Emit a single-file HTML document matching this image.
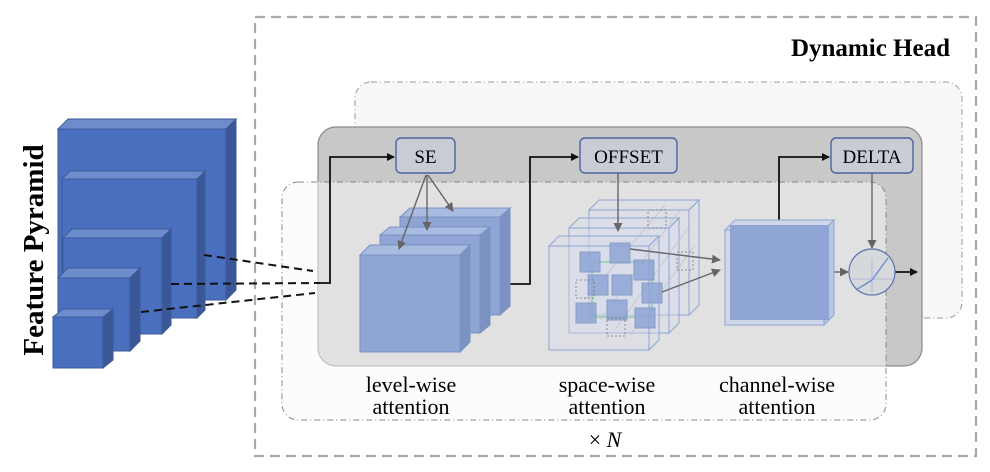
<!DOCTYPE html>
<html><head><style>
html,body{margin:0;padding:0;background:#fff;}
svg{display:block;}
text{font-family:"Liberation Serif",serif;}
</style></head><body>
<svg width="990" height="472" viewBox="0 0 990 472" xmlns="http://www.w3.org/2000/svg">
<defs>
<marker id="ab" markerWidth="8" markerHeight="8" refX="7" refY="4" orient="auto" markerUnits="userSpaceOnUse"><path d="M0,0 L8,4 L0,8 z" fill="#111"/></marker>
<marker id="ag" markerWidth="9" markerHeight="9" refX="8" refY="4.5" orient="auto" markerUnits="userSpaceOnUse"><path d="M0,0 L9,4.5 L0,9 z" fill="#666"/></marker>
</defs>
<rect x="255" y="17" width="721" height="439" fill="#fff" stroke="#aaa" stroke-width="2.2" stroke-dasharray="10,6"/>
<text x="950" y="56" font-size="25" font-weight="bold" text-anchor="end">Dynamic Head</text>
<rect x="355" y="82" width="607" height="236" rx="16" fill="#f8f8f8" stroke="#999" stroke-width="1" stroke-dasharray="6,3,1,3"/>
<rect x="318" y="127" width="604" height="239" rx="18" fill="#c8c8c8" stroke="#8a8a8a" stroke-width="1.2"/>
<rect x="282" y="182" width="604" height="238" rx="16" fill="rgba(250,250,250,0.5)" stroke="#888" stroke-width="1" stroke-dasharray="6,3,1,3"/>

<g stroke="#3d5a99" stroke-width="1">
<g><polygon points="58,129 68,119 236,119 226,129" fill="#6d8ccc"/><polygon points="226,129 236,119 236,290 226,300" fill="#3a5797"/><rect x="58" y="129" width="168" height="171" fill="#4a6fbf"/></g>
<g><polygon points="62,179 70,171 205,171 197,179" fill="#6d8ccc"/><polygon points="197,179 205,171 205,310 197,318" fill="#3a5797"/><rect x="62" y="179" width="135" height="139" fill="#4a6fbf"/></g>
<g><polygon points="63,238 72,229 171,229 162,238" fill="#6d8ccc"/><polygon points="162,238 171,229 171,325 162,334" fill="#3a5797"/><rect x="63" y="238" width="99" height="96" fill="#4a6fbf"/></g>
<g><polygon points="58,278 68,268 140,268 130,278" fill="#6d8ccc"/><polygon points="130,278 140,268 140,341 130,351" fill="#3a5797"/><rect x="58" y="278" width="72" height="73" fill="#4a6fbf"/></g>
<g><polygon points="53,317 63,309 113,309 103,317" fill="#6d8ccc"/><polygon points="103,317 113,309 113,360 103,368" fill="#3a5797"/><rect x="53" y="317" width="50" height="51" fill="#4a6fbf"/></g>
</g>
<text transform="translate(43,250) rotate(-90)" font-size="29" font-weight="bold" text-anchor="middle">Feature Pyramid</text>
<g stroke="#111" stroke-width="2" stroke-dasharray="8,5" fill="none">
<line x1="204" y1="255" x2="313" y2="271"/><line x1="171" y1="284" x2="320" y2="283"/><line x1="141" y1="312" x2="315" y2="293"/>
</g>

<g fill="none" stroke="#111" stroke-width="1.8">
<polyline points="320,283 330,283 330,157 394,157" marker-end="url(#ab)"/>
<polyline points="480,284 530,284 530,157 578,157" marker-end="url(#ab)"/>
<polyline points="779,222 779,157 829,157" marker-end="url(#ab)"/>
<line x1="895" y1="272" x2="917" y2="272" marker-end="url(#ab)"/>
</g>

<g stroke="#7b92c2" stroke-width="1">
<g><polygon points="400,217 410,208 510,208 500,217" fill="#a8bbe0"/><polygon points="500,217 510,208 510,306 500,315" fill="#7b92c2"/><rect x="400" y="217" width="100" height="98" fill="#8ea5d5"/></g>
<g><polygon points="380,235 390,227 490,227 480,235" fill="#a8bbe0"/><polygon points="480,235 490,227 490,325 480,333" fill="#7b92c2"/><rect x="380" y="235" width="100" height="98" fill="#8ea5d5"/></g>
<g><polygon points="360,255 370,245 470,245 460,255" fill="#a8bbe0"/><polygon points="460,255 470,245 470,342 460,352" fill="#7b92c2"/><rect x="360" y="255" width="100" height="97" fill="#8ea5d5"/></g>
</g>
<g stroke="#666" stroke-width="1.4" fill="none">
<line x1="426" y1="175" x2="399" y2="249" marker-end="url(#ag)"/>
<line x1="427" y1="175" x2="427" y2="230" marker-end="url(#ag)"/>
<line x1="428" y1="175" x2="453" y2="211" marker-end="url(#ag)"/>
</g>

<g stroke="#8ea5d5" stroke-width="1" fill="rgba(215,222,238,0.35)">
<polygon points="589,210 599,200 699,200 689,210"/><rect x="589" y="210" width="100" height="105"/><polygon points="689,210 699,200 699,305 689,315"/>
<polygon points="569,228 579,218 679,218 669,228"/><rect x="569" y="228" width="100" height="105"/><polygon points="669,228 679,218 679,323 669,333"/>
<polygon points="549,246 559,236 659,236 649,246"/><rect x="549" y="246" width="100" height="104"/><polygon points="649,246 659,236 659,340 649,350"/>
</g>
<g stroke="#bbb" stroke-width="0.6"><line x1="600" y1="320" x2="680" y2="210"/><line x1="615" y1="330" x2="690" y2="225"/><line x1="585" y1="300" x2="665" y2="205"/><line x1="630" y1="335" x2="695" y2="245"/></g>
<rect x="592" y="262" width="60" height="55" fill="none" stroke="#6cc98a" stroke-width="1"/>
<g fill="#8ea5d5" stroke="#7b92c2" stroke-width="1" opacity="0.85">
<rect x="580" y="252" width="20" height="20"/><rect x="610" y="243" width="20" height="20"/><rect x="634" y="260" width="20" height="20"/>
<rect x="588" y="275" width="20" height="20"/><rect x="612" y="275" width="20" height="20"/><rect x="642" y="283" width="20" height="20"/>
<rect x="576" y="303" width="20" height="20"/><rect x="607" y="300" width="20" height="20"/><rect x="635" y="308" width="20" height="20"/>
</g>
<g fill="none" stroke="#777" stroke-width="0.8" stroke-dasharray="2,2">
<rect x="576" y="280" width="18" height="18"/><rect x="607" y="318" width="18" height="18"/><rect x="677" y="252" width="16" height="18"/><rect x="648" y="210" width="18" height="18"/>
</g>
<g stroke="#666" stroke-width="1.4" fill="none">
<line x1="618" y1="173" x2="618" y2="231" marker-end="url(#ag)"/>
<line x1="630" y1="249" x2="720" y2="260" marker-end="url(#ag)"/>
<line x1="662" y1="292" x2="720" y2="270" marker-end="url(#ag)"/>
<line x1="832" y1="272" x2="848" y2="272" marker-end="url(#ag)"/>
<line x1="872" y1="173" x2="872" y2="248" marker-end="url(#ag)"/>
</g>

<g stroke="#8ea5d5" stroke-width="1">
<polygon points="725,230 735,220 834,220 824,230" fill="#d0d8e8"/>
<polygon points="824,230 834,220 834,315 824,325" fill="#b8c6e0"/>
<rect x="725" y="230" width="99" height="95" fill="#d0d8e8"/>
<rect x="730" y="225" width="99" height="95" fill="#8ea5d5" stroke="none"/>
</g>
<circle cx="872" cy="272" r="23" fill="#d6d8dc" stroke="#5a74ae" stroke-width="1.2"/>
<g stroke="#9fb2da" stroke-width="0.8"><line x1="852" y1="279" x2="892" y2="279"/><line x1="872" y1="258" x2="872" y2="292"/></g>
<polyline points="856,290 872,280 888,258" fill="none" stroke="#6d8ccc" stroke-width="1.4"/>

<g fill="#c9ccd4" stroke="#4a64a0" stroke-width="1.4">
<rect x="396" y="138" width="59" height="35" rx="5"/><rect x="580" y="138" width="97" height="35" rx="5"/><rect x="831" y="138" width="82" height="35" rx="5"/>
</g>
<g font-size="19" text-anchor="middle"><text x="425.5" y="163">SE</text><text x="628.5" y="163">OFFSET</text><text x="872" y="163">DELTA</text></g>

<g font-size="22" text-anchor="middle">
<text x="411" y="392">level-wise</text><text x="411" y="414">attention</text>
<text x="607" y="392">space-wise</text><text x="607" y="414">attention</text>
<text x="777" y="392">channel-wise</text><text x="777" y="414">attention</text>
<text x="605" y="447">× <tspan font-style="italic">N</tspan></text>
</g>
</svg>
</body></html>
